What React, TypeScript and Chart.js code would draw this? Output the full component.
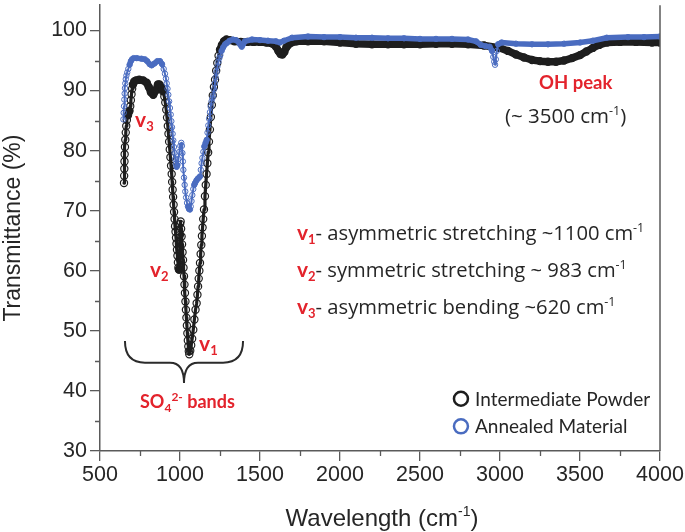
import React, { useEffect, useRef } from "react";
import { Chart, registerables } from "chart.js";

Chart.register(...registerables);

// ---------- data ----------
const powderX = [
  650, 651, 652, 653, 654, 656, 658, 661, 664, 668, 675, 684, 689, 693, 697, 701, 706, 714, 725, 745,
  770, 792, 805, 818, 833, 848, 862, 872, 882, 893, 902, 908, 914, 919, 924, 928, 932, 936, 940, 944,
  948, 951, 954, 957, 960, 963, 966, 969, 972, 975, 978, 981, 984, 987, 990, 993, 996, 998, 999, 1000,
  1001, 1004, 1007, 1010, 1013, 1016, 1019, 1022, 1025, 1028, 1031, 1034, 1037, 1040, 1043, 1046, 1049, 1052, 1055, 1058,
  1064, 1070, 1076, 1083, 1090, 1097, 1104, 1109, 1113, 1117, 1121, 1125, 1129, 1133, 1137, 1141, 1145, 1150, 1156, 1161,
  1166, 1171, 1176, 1181, 1187, 1193, 1199, 1205, 1212, 1219, 1226, 1233, 1241, 1250, 1262, 1275, 1290, 1310, 1340, 1380,
  1420, 1460, 1500, 1540, 1580, 1600, 1615, 1628, 1640, 1652, 1665, 1690, 1730, 1800, 1900, 2000, 2100, 2200, 2300, 2400,
  2500, 2600, 2700, 2800, 2900, 3000, 3050, 3100, 3150, 3200, 3250, 3300, 3350, 3400, 3450, 3500, 3540, 3580, 3620, 3670,
  3750, 3850, 3950, 4000,
];
const powderY = [
  74.6, 75.8, 77.0, 78.2, 79.4, 80.6, 81.8, 83.0, 84.1, 85.1, 85.9, 86.6, 87.4, 88.4, 89.4, 90.3, 91.0, 91.5, 91.7, 91.8,
  91.7, 91.3, 90.6, 89.7, 89.3, 90.0, 91.0, 91.0, 90.6, 89.9, 89.0, 88.0, 86.8, 85.5, 84.1, 82.8, 81.5, 80.2, 78.9, 77.5,
  76.1, 74.8, 73.5, 72.3, 71.0, 69.8, 68.6, 67.4, 66.5, 65.5, 64.5, 63.5, 62.5, 61.4, 60.5, 60.2, 60.2, 62.0, 64.0, 66.0,
  67.8, 68.2, 67.0, 65.7, 64.4, 63.1, 61.8, 60.5, 59.1, 57.7, 56.3, 54.9, 53.5, 52.2, 50.9, 49.6, 48.4, 47.4, 46.6, 46.1,
  46.7, 47.6, 48.7, 50.2, 51.9, 53.5, 54.6, 56.0, 57.4, 58.7, 60.0, 61.3, 62.8, 64.3, 65.8, 67.2, 68.6, 70.2, 72.4, 74.3,
  76.1, 77.9, 79.7, 81.5, 83.5, 85.6, 87.6, 89.2, 90.6, 91.8, 93.3, 94.6, 95.8, 96.8, 97.6, 98.2, 98.5, 98.4, 98.2, 98.1,
  98.1, 98.1, 98.1, 98.0, 97.8, 97.3, 96.6, 96.1, 96.0, 96.4, 97.2, 97.9, 98.2, 98.2, 98.2, 98.0, 97.8, 97.7, 97.7, 97.7,
  97.7, 97.8, 97.8, 97.7, 97.5, 97.1, 96.6, 96.0, 95.5, 95.1, 94.9, 94.8, 94.8, 95.0, 95.4, 95.9, 96.5, 97.1, 97.6, 98.0,
  98.1, 98.1, 98.0, 98.0,
];

const annealedX = [
  646, 648, 650, 652, 654, 656, 658, 661, 665, 670, 677, 685, 693, 700, 710, 730, 760, 781, 795, 810,
  823, 840, 858, 875, 888, 898, 906, 912, 917, 922, 927, 932, 937, 942, 946, 950, 954, 958, 962, 966,
  970, 974, 979, 984, 990, 996, 1002, 1008, 1012, 1015, 1018, 1021, 1025, 1029, 1033, 1038, 1044, 1050, 1056, 1062,
  1067, 1072, 1077, 1083, 1089, 1094, 1102, 1110, 1118, 1125, 1130, 1135, 1140, 1146, 1152, 1160, 1167, 1172, 1177, 1182,
  1187, 1192, 1197, 1202, 1208, 1213, 1218, 1223, 1228, 1234, 1240, 1246, 1252, 1260, 1270, 1282, 1292, 1310, 1330, 1350,
  1365, 1378, 1386, 1394, 1405, 1450, 1500, 1550, 1600, 1625, 1650, 1700, 1800, 1900, 2000, 2100, 2200, 2300, 2400, 2500,
  2600, 2700, 2800, 2850, 2880, 2910, 2935, 2950, 2958, 2964, 2969, 2974, 2980, 2988, 3010, 3100, 3200, 3300, 3400, 3500,
  3580, 3667, 3800, 3900, 4000,
];
const annealedY = [
  85.2, 86.3, 87.4, 88.5, 89.5, 90.4, 91.2, 91.9, 92.5, 93.0, 93.6, 94.3, 94.9, 95.2, 95.4, 95.4, 95.3, 95.2, 94.9, 94.4,
  94.2, 94.5, 94.9, 94.9, 94.4, 93.6, 92.8, 92.0, 91.2, 90.3, 89.3, 88.2, 87.1, 86.0, 84.9, 83.9, 82.8, 81.7, 80.6, 79.6,
  78.6, 77.8, 77.3, 77.6, 78.6, 79.8, 80.8, 81.3, 80.8, 79.6, 78.2, 76.8, 75.5, 74.3, 73.2, 72.2, 71.3, 70.7, 70.3, 70.2,
  70.7, 71.6, 72.6, 73.6, 74.3, 74.6, 75.0, 75.3, 75.5, 75.7, 76.8, 77.9, 78.8, 79.8, 80.7, 81.3, 81.8, 83.0, 84.2, 85.3,
  86.4, 87.3, 88.2, 88.7, 89.2, 90.2, 91.2, 92.2, 93.1, 94.0, 94.8, 95.4, 95.9, 96.6, 97.2, 97.7, 97.9, 98.3, 98.5, 98.4,
  98.1, 97.6, 97.3, 97.7, 98.2, 98.5, 98.4, 98.3, 98.2, 98.0, 98.3, 98.8, 99.0, 98.9, 98.9, 98.8, 98.8, 98.7, 98.7, 98.6,
  98.6, 98.6, 98.5, 98.2, 97.6, 97.4, 97.3, 96.6, 95.6, 94.8, 94.3, 95.2, 96.6, 97.7, 98.0, 97.8, 97.7, 97.7, 97.8, 98.0,
  98.3, 98.8, 98.9, 98.9, 99.0,
];

const seriesLabels = ["Intermediate Powder", "Annealed Material"];
const xTickValues = [500, 1000, 1500, 2000, 2500, 3000, 3500, 4000];
const yTickValues = [30, 40, 50, 60, 70, 80, 90, 100];
const xMinorValues = [750, 1250, 1750, 2250, 2750, 3250, 3750];
const yMinorValues = [35, 45, 55, 65, 75, 85, 95];

const descLines = [
  { sub: "1", text: "- asymmetric stretching ~1100 cm", y: 65.05 },
  { sub: "2", text: "- symmetric stretching ~ 983 cm", y: 58.95 },
  { sub: "3", text: "- asymmetric bending ~620 cm", y: 52.8 },
];

// ---------- styles ----------
const BLACK = "#1e1e1e";
const BLUE = "#4a6cc0";
const RED = "#e3232c";
const AXIS = "#5a5a5a";
const TEXT = "#262626";
const AXFONT = '"Liberation Sans", Arial, sans-serif';
const LATO = 'Lato, "Open Sans", sans-serif';
const OPEN = '"Open Sans", Lato, sans-serif';

type Part = { t: string; size: number; bold?: boolean; color: string; dy?: number; fam?: string };

function drawRich(ctx: CanvasRenderingContext2D, x: number, y: number, parts: Part[]) {
  ctx.textBaseline = "alphabetic";
  ctx.textAlign = "left";
  let cx = x;
  for (const p of parts) {
    ctx.font = `${p.bold ? "bold " : ""}${p.size}px ${p.fam || LATO}`;
    ctx.fillStyle = p.color;
    ctx.fillText(p.t, cx, y + (p.dy || 0));
    cx += ctx.measureText(p.t).width;
  }
}

function vLabel(sub: string): Part[] {
  return [
    { t: "v", size: 21, bold: true, color: RED },
    { t: sub, size: 13, bold: true, color: RED, dy: 4 },
  ];
}

const axisExtras = {
  id: "axisExtras",
  afterDraw(chart: any) {
    const { ctx, chartArea, scales } = chart;
    const xs = scales.x;
    const ys = scales.y;
    ctx.save();
    ctx.strokeStyle = AXIS;
    ctx.lineWidth = 1.3;
    ctx.beginPath();
    for (const v of xMinorValues) {
      const px = Math.round(xs.getPixelForValue(v)) + 0.5;
      ctx.moveTo(px, chartArea.bottom);
      ctx.lineTo(px, chartArea.bottom + 5);
    }
    for (const v of yMinorValues) {
      const py = Math.round(ys.getPixelForValue(v)) + 0.5;
      ctx.moveTo(chartArea.left, py);
      ctx.lineTo(chartArea.left - 5, py);
    }
    ctx.stroke();
    ctx.lineWidth = 1.5;
    ctx.beginPath();
    ctx.moveTo(chartArea.right, chartArea.top);
    ctx.lineTo(chartArea.right, chartArea.bottom);
    ctx.stroke();

    // x axis title with superscript
    const cx = (chartArea.left + chartArea.right) / 2 + 2;
    const base = 526;
    ctx.fillStyle = TEXT;
    ctx.textBaseline = "alphabetic";
    ctx.textAlign = "left";
    const main = "Wavelength (cm";
    ctx.font = `24px ${AXFONT}`;
    const w1 = ctx.measureText(main).width;
    ctx.font = `14px ${AXFONT}`;
    const w2 = ctx.measureText("-1").width;
    ctx.font = `24px ${AXFONT}`;
    const w3 = ctx.measureText(")").width;
    const x0 = cx - (w1 + w2 + w3) / 2;
    ctx.fillText(main, x0, base);
    ctx.font = `14px ${AXFONT}`;
    ctx.fillText("-1", x0 + w1, base - 10);
    ctx.font = `24px ${AXFONT}`;
    ctx.fillText(")", x0 + w1 + w2, base);
    ctx.restore();
  },
};

const annotations = {
  id: "annotations",
  afterDatasetsDraw(chart: any) {
    const { ctx, scales } = chart;
    const X = (v: number) => scales.x.getPixelForValue(v);
    const Y = (v: number) => scales.y.getPixelForValue(v);
    ctx.save();

    drawRich(ctx, X(719), Y(84), vLabel("3"));
    drawRich(ctx, X(812), Y(59), vLabel("2"));
    drawRich(ctx, X(1119), Y(46.7), vLabel("1"));

    // brace
    const l = X(656), r = X(1394), m = X(1025);
    const top = Y(48.3), mid = Y(44.7), tip = Y(41.3);
    ctx.strokeStyle = "#2b2b2b";
    ctx.lineWidth = 2;
    ctx.beginPath();
    ctx.moveTo(l, top);
    ctx.quadraticCurveTo(l, mid, l + 20, mid);
    ctx.lineTo(m - 14, mid);
    ctx.quadraticCurveTo(m, mid, m, tip);
    ctx.quadraticCurveTo(m, mid, m + 14, mid);
    ctx.lineTo(r - 20, mid);
    ctx.quadraticCurveTo(r, mid, r, top);
    ctx.stroke();

    drawRich(ctx, X(750), Y(37.2), [
      { t: "SO", size: 18, bold: true, color: RED },
      { t: "4", size: 12, bold: true, color: RED, dy: 4 },
      { t: "2-", size: 12, bold: true, color: RED, dy: -7 },
      { t: " bands", size: 18, bold: true, color: RED },
    ]);

    drawRich(ctx, X(3244), Y(90.25), [{ t: "OH peak", size: 18.5, bold: true, color: RED }]);
    drawRich(ctx, X(3031), Y(84.6), [
      { t: "(~ 3500 cm", size: 20.5, color: TEXT, fam: OPEN },
      { t: "-1", size: 12.5, color: TEXT, dy: -8, fam: OPEN },
      { t: ")", size: 20.5, color: TEXT, fam: OPEN },
    ]);

    for (const d of descLines) {
      drawRich(ctx, X(1731), Y(d.y), [
        ...vLabel(d.sub),
        { t: d.text, size: 20.2, color: TEXT, fam: OPEN },
        { t: "-1", size: 12.5, color: TEXT, dy: -8, fam: OPEN },
      ]);
    }

    // legend
    const colors = [BLACK, BLUE];
    const rows = [38.7, 34.1];
    seriesLabels.forEach((lab, i) => {
      const cy = Y(rows[i]);
      const cxm = X(2756);
      ctx.beginPath();
      ctx.arc(cxm, cy, 7, 0, Math.PI * 2);
      ctx.strokeStyle = colors[i];
      ctx.lineWidth = 2.5;
      ctx.stroke();
      drawRich(ctx, X(2844), cy + 7, [{ t: lab, size: 19, color: TEXT }]);
    });
    ctx.restore();
  },
};

function segWidth(thick: number, thin: number) {
  return (ctx: any) => {
    const dx = Math.abs(ctx.p1.x - ctx.p0.x);
    const dy = Math.abs(ctx.p1.y - ctx.p0.y);
    return dy > 3 * dx ? thin : thick;
  };
}

export default function App() {
  const ref = useRef<HTMLCanvasElement>(null);
  useEffect(() => {
    document.body.style.margin = "0";
    const canvas = ref.current!;
    const powder = powderX.map((x, i) => ({ x, y: powderY[i] }));
    const annealed = annealedX.map((x, i) => ({ x, y: annealedY[i] }));
    const tickFont = { family: AXFONT, size: 21.5 };
    const chart = new Chart(canvas, {
      type: "scatter",
      data: {
        datasets: [
          {
            label: seriesLabels[0],
            data: powder,
            showLine: true,
            borderColor: BLACK,
            borderWidth: 7.5,
            borderCapStyle: "round",
            borderJoinStyle: "round",
            pointRadius: 3.6,
            pointBorderWidth: 1.2,
            pointBorderColor: BLACK,
            pointBackgroundColor: "rgba(0,0,0,0)",
            order: 2,
            segment: { borderWidth: segWidth(7.5, 3.2) },
          } as any,
          {
            label: seriesLabels[1],
            data: annealed,
            showLine: true,
            borderColor: BLUE,
            borderWidth: 5.5,
            borderCapStyle: "round",
            borderJoinStyle: "round",
            pointRadius: 2.7,
            pointBorderWidth: 1,
            pointBorderColor: BLUE,
            pointBackgroundColor: "rgba(0,0,0,0)",
            order: 1,
            segment: { borderWidth: segWidth(5.5, 2) },
          } as any,
        ],
      },
      options: {
        animation: false,
        responsive: false,
        events: [],
        layout: { padding: { top: 1, right: 25, left: 0, bottom: 0 } },
        plugins: { legend: { display: false }, tooltip: { enabled: false } },
        scales: {
          x: {
            type: "linear",
            min: 500,
            max: 4000,
            afterBuildTicks: (s: any) => {
              s.ticks = xTickValues.map((v) => ({ value: v }));
            },
            afterFit: (s: any) => {
              s.height = 81;
              s.paddingLeft = 0;
              s.paddingRight = 0;
            },
            ticks: { font: tickFont, color: TEXT, padding: 1, maxRotation: 0, autoSkip: false, callback: (v: any) => String(v) },
            grid: { drawOnChartArea: false, tickLength: 10, color: AXIS, lineWidth: 1.3 },
            border: { color: AXIS, width: 1.5 },
          },
          y: {
            type: "linear",
            min: 30,
            max: 105,
            afterBuildTicks: (s: any) => {
              s.ticks = yTickValues.map((v) => ({ value: v }));
            },
            afterFit: (s: any) => {
              s.width = 100;
              s.paddingTop = 0;
              s.paddingBottom = 0;
            },
            ticks: { font: tickFont, color: TEXT, padding: 3, autoSkip: false, callback: (v: any) => String(v) },
            grid: { drawOnChartArea: false, tickLength: 10, color: AXIS, lineWidth: 1.3 },
            border: { color: AXIS, width: 1.5 },
            title: {
              display: true,
              text: "Transmittance (%)",
              font: { family: AXFONT, size: 23 },
              color: TEXT,
              padding: { top: 0, bottom: 0 },
            },
          },
        },
      } as any,
      plugins: [axisExtras, annotations],
    });
    // make the value 100 land where it sits in the reference (30 px from the top)
    const ys: any = chart.scales.y;
    const B = ys.bottom, T = ys.top;
    const want = 30.5;
    const cur = ys.getPixelForValue(100);
    if (Math.abs(cur - want) > 0.4) {
      (chart.options as any).scales.y.max = 30 + (70 * (B - T)) / (B - want);
      chart.update();
    }
    return () => chart.destroy();
  }, []);
  return <canvas ref={ref} width={685} height={532} style={{ display: "block" }} />;
}
